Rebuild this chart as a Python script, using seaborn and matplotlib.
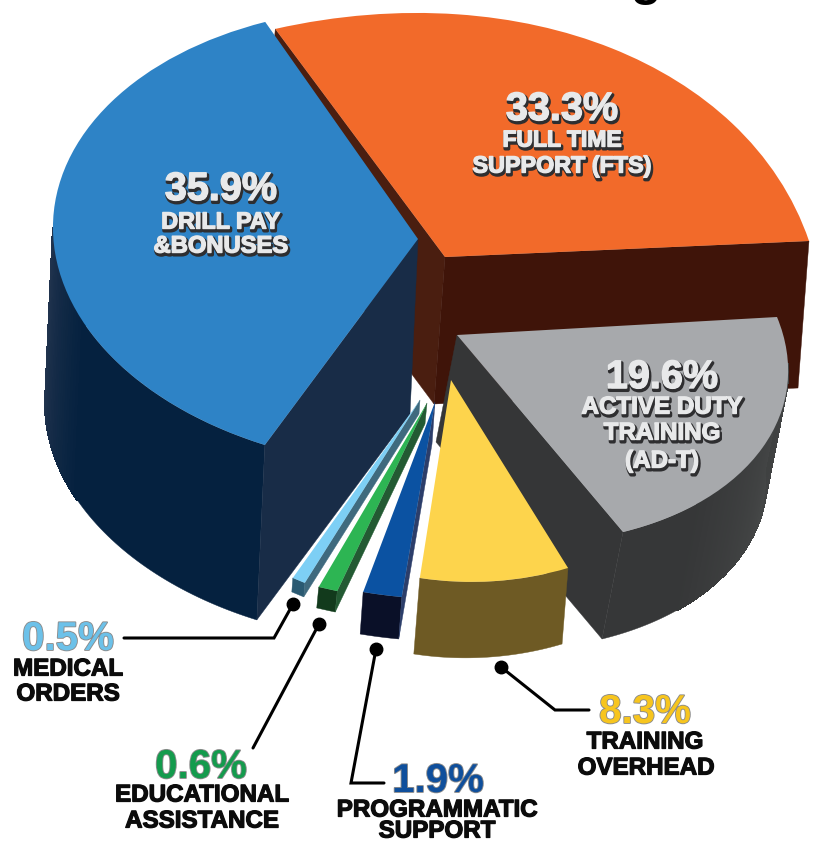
import numpy as np
import seaborn as sns
import matplotlib
matplotlib.use("Agg")
import matplotlib.pyplot as plt
import matplotlib.patheffects as pe
from matplotlib.collections import PolyCollection
from matplotlib.transforms import Transform
from matplotlib.colors import to_rgb

# ---- data -------------------------------------------------------------
categories = ["FULL TIME\nSUPPORT (FTS)", "DRILL PAY\n&BONUSES", "MEDICAL\nORDERS",
              "EDUCATIONAL\nASSISTANCE", "PROGRAMMATIC\nSUPPORT",
              "TRAINING\nOVERHEAD", "ACTIVE DUTY\nTRAINING\n(AD-T)"]
values = [33.3, 35.9, 0.5, 0.6, 1.9, 8.3, 19.6]

# ---- styles -----------------------------------------------------------
top_colors = ["#f26a2a", "#2e83c6", "#7dcff5", "#2db553", "#0b52a2", "#fdd44c", "#a7a9ac"]
arc_colors = ["#3f1409", "#05213f", "#2a5a72", "#123a1c", "#0a1028", "#6e5a24", "#363738"]
rim_colors = ["#3f1409", "#22344e", "#2a5a72", "#123a1c", "#0a1028", "#6e5a24", "#454747"]
face_colors = ["#3f1409", "#182c47", "#3f6a7e", "#235a33", "#2c3e6a", "#6e5a24", "#353637"]
pct_colors = {2: "#6cc1e9", 3: "#149b4d", 4: "#0f4f9c", 5: "#f7c51e"}
z_orders = [1, 2, 4, 4, 4, 5, 3]

# ---- layout: camera calibration per slice, (angle, x, y) in pixels ------
apex = [(445, 257), (418, 239), (420, 400), (427, 403), (435, 402), (451, 380), (457, 335)]
calib = [
    [(0, 809, 241), (60, 611, 48), (119.8, 275, 29)],
    [(119.8, 265, 22), (185, 53, 231), (248.9, 265, 445)],
    [(248.9, 293, 578), (250.7, 305, 583)],
    [(250.7, 319, 587), (252.8, 337, 591)],
    [(252.8, 363, 592), (259.7, 402, 597)],
    [(259.7, 420, 578), (275, 496, 581), (289.5, 568, 568)],
    [(289.5, 623, 532), (325, 763, 447), (360, 777, 317)],
]
depth = [(-11, 147), (-8, 175), (-1, 14), (-2, 21), (-3, 42), (-6, 76), (-21, 107)]
rim = [None, (185, 22), None, None, None, None, (335, 30)]
wall_limit = [None, (184, 360), (0, 360), (0, 360), (0, 360), (0, 360), (0, 348)]


class Camera(Transform):
    input_dims = output_dims = 2
    is_affine = False
    has_inverse = False

    def __init__(self, H):
        super().__init__()
        self.H = H

    def transform_non_affine(self, values):
        p = np.asarray(values, float)
        q = np.c_[p, np.ones(len(p))] @ self.H.T
        return q[:, :2] / q[:, 2:]


def fit_camera(a, cal):
    src = [(0.0, 0.0)] + [(np.cos(np.radians(t)), np.sin(np.radians(t))) for t, _, _ in cal]
    dst = [a] + [(x, y) for _, x, y in cal]
    if len(cal) == 2:
        M = np.array([src[1], src[2]]).T
        D = np.array([np.subtract(dst[1], a), np.subtract(dst[2], a)]).T
        A = D @ np.linalg.inv(M)
        return np.array([[A[0, 0], A[0, 1], a[0]], [A[1, 0], A[1, 1], a[1]], [0, 0, 1.0]])
    L, b = [], []
    for (u, v), (x, y) in zip(src, dst):
        L.append([u, v, 1, 0, 0, 0, -u * x, -v * x]); b.append(x)
        L.append([0, 0, 0, u, v, 1, -u * y, -v * y]); b.append(y)
    h = np.linalg.solve(np.array(L, float), np.array(b, float))
    return np.append(h, 1.0).reshape(3, 3)


def lerp(c1, c2, f):
    c1, c2 = np.array(to_rgb(c1)), np.array(to_rgb(c2))
    return tuple(c1 + (c2 - c1) * f)


sns.set_theme(style="white")
plt.rcParams["font.family"] = ["Liberation Sans", "DejaVu Sans"]
fig = plt.figure(figsize=(8.17, 8.43), dpi=100)
ax = fig.add_axes([0, 0, 1, 1])

palette = sns.color_palette(top_colors)
wedges, _ = ax.pie(values, colors=palette, startangle=0, counterclock=True, radius=1,
                   wedgeprops=dict(linewidth=0))
ax.set_aspect("auto")
ax.set_xlim(0, 817)
ax.set_ylim(843, 0)
ax.axis("off")

for i, w in enumerate(wedges):
    H = fit_camera(apex[i], calib[i])
    cam = Camera(H)
    w.set_transform(cam + ax.transData)
    w.set_zorder(z_orders[i] + 0.2)
    w.set_clip_on(False)
    d = np.array(depth[i], float)
    z = z_orders[i] + 0.1
    t0, t1 = w.theta1, w.theta2
    th = np.radians(np.linspace(t0, t1, 121))
    arc = cam.transform_non_affine(np.c_[np.cos(th), np.sin(th)])
    # curved outer wall: solid underlay, then a soft rim where it turns away
    if wall_limit[i] is not None:
        lo, hi = wall_limit[i]
        deg = np.degrees(th)
        keep = (deg >= lo) & (deg <= hi)
        vis = arc[keep]
        ax.fill(*np.vstack([vis, (vis + d)[::-1]]).T, color=arc_colors[i], lw=0.3, zorder=z)
        if rim[i] is not None:
            kept = deg[keep]
            polys, cols = [], []
            for k in range(len(vis) - 1):
                f = np.clip(1 - abs(kept[k] - rim[i][0]) / rim[i][1], 0, 1)
                if f > 0:
                    polys.append([vis[k], vis[k + 1], vis[k + 1] + d, vis[k] + d])
                    cols.append(lerp(arc_colors[i], rim_colors[i], f))
            ax.add_collection(PolyCollection(polys, facecolors=cols, edgecolors=cols, linewidths=0.8,
                                             antialiaseds=False, zorder=z))
    # cut faces
    a = np.array(apex[i], float)
    if i == 0:   # orange: both cut faces show
        ax.fill(*np.array([arc[-1], a, a + d, arc[-1] + d]).T, color="#4a1e10", lw=0.3, zorder=z)
        ax.fill(*np.array([a, arc[0], arc[0] + d, a + d]).T, color=face_colors[i], lw=0.3, zorder=z)
    elif i == 1:  # blue: clockwise-most cut
        ax.fill(*np.array([a, arc[-1], arc[-1] + d, a + d]).T, color=face_colors[i], lw=0.3, zorder=z)
    elif i == 6:  # gray: front cut
        ax.fill(*np.array([a, arc[0], arc[0] + d, a + d]).T, color=face_colors[i], lw=0.3, zorder=z)
    elif i in (2, 3, 4):  # thin slices: right cut
        ax.fill(*np.array([a, arc[-1], arc[-1] + d, a + d]).T, color=face_colors[i], lw=0.3, zorder=z)

# ---- labels on the pie ------------------------------------------------
def inset(x, y, s, fs):
    ax.text(x, y, s, fontsize=fs, fontweight="bold", color="#e8e9ea", ha="center", va="center", zorder=10,
            path_effects=[pe.Stroke(linewidth=2.6, foreground="#2e2e30", offset=(0.9, -1.6)),
                          pe.Stroke(linewidth=1.0, foreground="#e8e9ea"), pe.Normal()])


pct = [f"{v}%" for v in values]
inset(562, 109, pct[0], 28.5)
inset(562, 140, "FULL TIME", 16.5)
inset(562, 166, "SUPPORT (FTS)", 16.8)
inset(221, 189, pct[1], 28.5)
inset(221, 222, "DRILL PAY", 16.8)
inset(221, 246, "&BONUSES", 17.1)
inset(662, 377, pct[6], 28.5)
inset(662, 407, "ACTIVE DUTY", 17.4)
inset(662, 433, "TRAINING", 17.4)
inset(662, 461, "(AD-T)", 17.4)


# ---- outer callouts ---------------------------------------------------
def outer(i, x, y, name_pos):
    ax.text(x, y + 2, pct[i], fontsize=29, fontweight="bold", color=pct_colors[i], ha="center", va="center", zorder=10,
            path_effects=[pe.Stroke(linewidth=1.3, foreground="#8c8c8c"), pe.Normal()])
    for (nx, ny), line in zip(name_pos, categories[i].split("\n")):
        ax.text(nx, ny + 2, line, fontsize=17.4, fontweight="bold", color="#0c0c0c", ha="center", va="center", zorder=10,
                path_effects=[pe.Stroke(linewidth=0.9, foreground="#0c0c0c"), pe.Normal()])


outer(2, 68, 637, [(68, 667), (68, 692)])
outer(3, 201, 765, [(202, 793), (202, 819)])
outer(4, 438, 779, [(437, 808), (437, 829)])
outer(5, 645, 710, [(645, 740), (646, 766)])

leaders = [
    [(293, 604), (274, 638), (124, 638)],
    [(319, 624), (253, 748)],
    [(376, 649), (351, 783), (384, 783)],
    [(501, 667), (555, 710), (589, 710)],
]
for pts in leaders:
    xs, ys = zip(*pts)
    ax.plot(xs, ys, color="black", lw=2.2, solid_joinstyle="miter", zorder=9)
    ax.plot(xs[0], ys[0], "o", color="black", ms=9, zorder=9)

# descender of the cropped headline above the picture
ax.text(646, -5, "g", fontsize=36, fontweight="bold", color="black", ha="center", va="baseline",
        zorder=10, clip_on=True)

fig.savefig("out.png", dpi=100)
